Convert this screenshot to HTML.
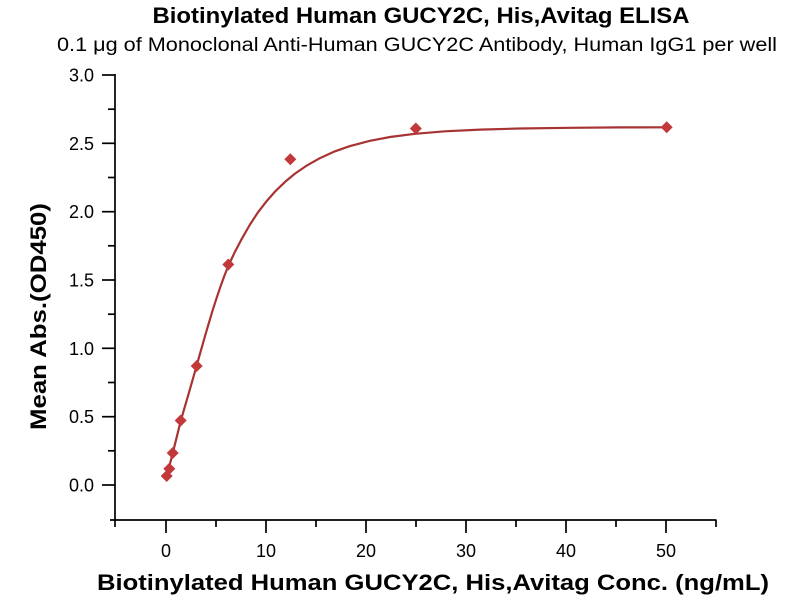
<!DOCTYPE html>
<html>
<head>
<meta charset="utf-8">
<style>
  html, body { margin: 0; padding: 0; background: #ffffff; }
  svg { display: block; }
  text { font-family: "Liberation Sans", "DejaVu Sans", sans-serif; fill: #000; }
</style>
</head>
<body>
<svg width="800" height="600" viewBox="0 0 800 600" xmlns="http://www.w3.org/2000/svg">
  <rect width="800" height="600" fill="#ffffff"/>

  <!-- Titles -->
  <text x="421" y="23" font-size="22" font-weight="bold" text-anchor="middle" textLength="537" lengthAdjust="spacingAndGlyphs">Biotinylated Human GUCY2C, His,Avitag ELISA</text>
  <text x="417" y="51" font-size="19" text-anchor="middle" textLength="720" lengthAdjust="spacingAndGlyphs">0.1 μg of Monoclonal Anti-Human GUCY2C Antibody, Human IgG1 per well</text>

  <!-- Axes -->
  <g stroke="#000" stroke-width="1.7" fill="none" stroke-linecap="butt">
    <line x1="115" y1="74" x2="115" y2="527"/>
    <line x1="110" y1="520" x2="716.5" y2="520"/>
    <!-- Y major ticks -->
    <line x1="102" y1="485" x2="115" y2="485"/>
    <line x1="102" y1="416.7" x2="115" y2="416.7"/>
    <line x1="102" y1="348.3" x2="115" y2="348.3"/>
    <line x1="102" y1="280" x2="115" y2="280"/>
    <line x1="102" y1="211.7" x2="115" y2="211.7"/>
    <line x1="102" y1="143.3" x2="115" y2="143.3"/>
    <line x1="102" y1="75" x2="115" y2="75"/>
    <!-- Y minor ticks -->
    <line x1="108" y1="450.8" x2="115" y2="450.8"/>
    <line x1="108" y1="382.5" x2="115" y2="382.5"/>
    <line x1="108" y1="314.2" x2="115" y2="314.2"/>
    <line x1="108" y1="245.8" x2="115" y2="245.8"/>
    <line x1="108" y1="177.5" x2="115" y2="177.5"/>
    <line x1="108" y1="109.2" x2="115" y2="109.2"/>
    <!-- X major ticks -->
    <line x1="166" y1="520" x2="166" y2="533"/>
    <line x1="266" y1="520" x2="266" y2="533"/>
    <line x1="366" y1="520" x2="366" y2="533"/>
    <line x1="466" y1="520" x2="466" y2="533"/>
    <line x1="566" y1="520" x2="566" y2="533"/>
    <line x1="666" y1="520" x2="666" y2="533"/>
    <!-- X minor ticks -->
    <line x1="216" y1="520" x2="216" y2="527"/>
    <line x1="316" y1="520" x2="316" y2="527"/>
    <line x1="416" y1="520" x2="416" y2="527"/>
    <line x1="516" y1="520" x2="516" y2="527"/>
    <line x1="616" y1="520" x2="616" y2="527"/>
    <line x1="716" y1="520" x2="716" y2="527"/>
  </g>

  <!-- Y tick labels -->
  <g font-size="18" text-anchor="end">
    <text x="94" y="491.5">0.0</text>
    <text x="94" y="423.2">0.5</text>
    <text x="94" y="354.8">1.0</text>
    <text x="94" y="286.5">1.5</text>
    <text x="94" y="218.2">2.0</text>
    <text x="94" y="149.8">2.5</text>
    <text x="94" y="81.5">3.0</text>
  </g>

  <!-- X tick labels -->
  <g font-size="18" text-anchor="middle">
    <text x="166" y="557">0</text>
    <text x="266" y="557">10</text>
    <text x="366" y="557">20</text>
    <text x="466" y="557">30</text>
    <text x="566" y="557">40</text>
    <text x="666" y="557">50</text>
  </g>

  <!-- Axis titles -->
  <text x="433" y="590" font-size="22" font-weight="bold" text-anchor="middle" textLength="672" lengthAdjust="spacingAndGlyphs">Biotinylated Human GUCY2C, His,Avitag Conc. (ng/mL)</text>
  <text transform="translate(46,316.5) rotate(-90)" x="0" y="0" font-size="22" font-weight="bold" text-anchor="middle" textLength="227" lengthAdjust="spacingAndGlyphs">Mean Abs.(OD450)</text>

  <!-- Fitted curve (smooth, dense sampling) -->
  <polyline fill="none" stroke="#a83333" stroke-width="2.2" stroke-linejoin="round" stroke-linecap="round"
    points="166.7,476.5 169.7,464.9 172.7,453.3 176.7,437.2 180.7,421 184.7,407.2 188.7,393.5 192.7,379.5 196.7,365.5 200.6,351.6 204.6,337.5 208.5,324.2 212.5,310.8 216.5,298.3 220.4,286.8 224.3,276.0 228.3,266.0 232,258 235,251.7 242,238.4 250,224.5 258,212.3 266,201.9 275,191.6 285,181.9 295,173.6 307,165.4 320,158.1 335,151.3 350,146.1 370,140.8 390,137.0 415,133.8 445,131.3 480,129.6 520,128.5 570,127.8 620,127.4 666.7,127.3"/>

  <!-- Data markers (diamonds) -->
  <g fill="#c3383a">
    <polygon points="666.7,121.3 672.7,127.3 666.7,133.3 660.7,127.3"/>
    <polygon points="415.8,122.5 421.8,128.5 415.8,134.5 409.8,128.5"/>
    <polygon points="290.3,153.3 296.3,159.3 290.3,165.3 284.3,159.3"/>
    <polygon points="228.3,258.5 234.3,264.5 228.3,270.5 222.3,264.5"/>
    <polygon points="196.7,360 202.7,366 196.7,372 190.7,366"/>
    <polygon points="180.7,414.5 186.7,420.5 180.7,426.5 174.7,420.5"/>
    <polygon points="172.7,447 178.7,453 172.7,459 166.7,453"/>
    <polygon points="169.3,462.7 175.3,468.7 169.3,474.7 163.3,468.7"/>
    <polygon points="166.7,470 172.7,476 166.7,482 160.7,476"/>
  </g>
</svg>
</body>
</html>
